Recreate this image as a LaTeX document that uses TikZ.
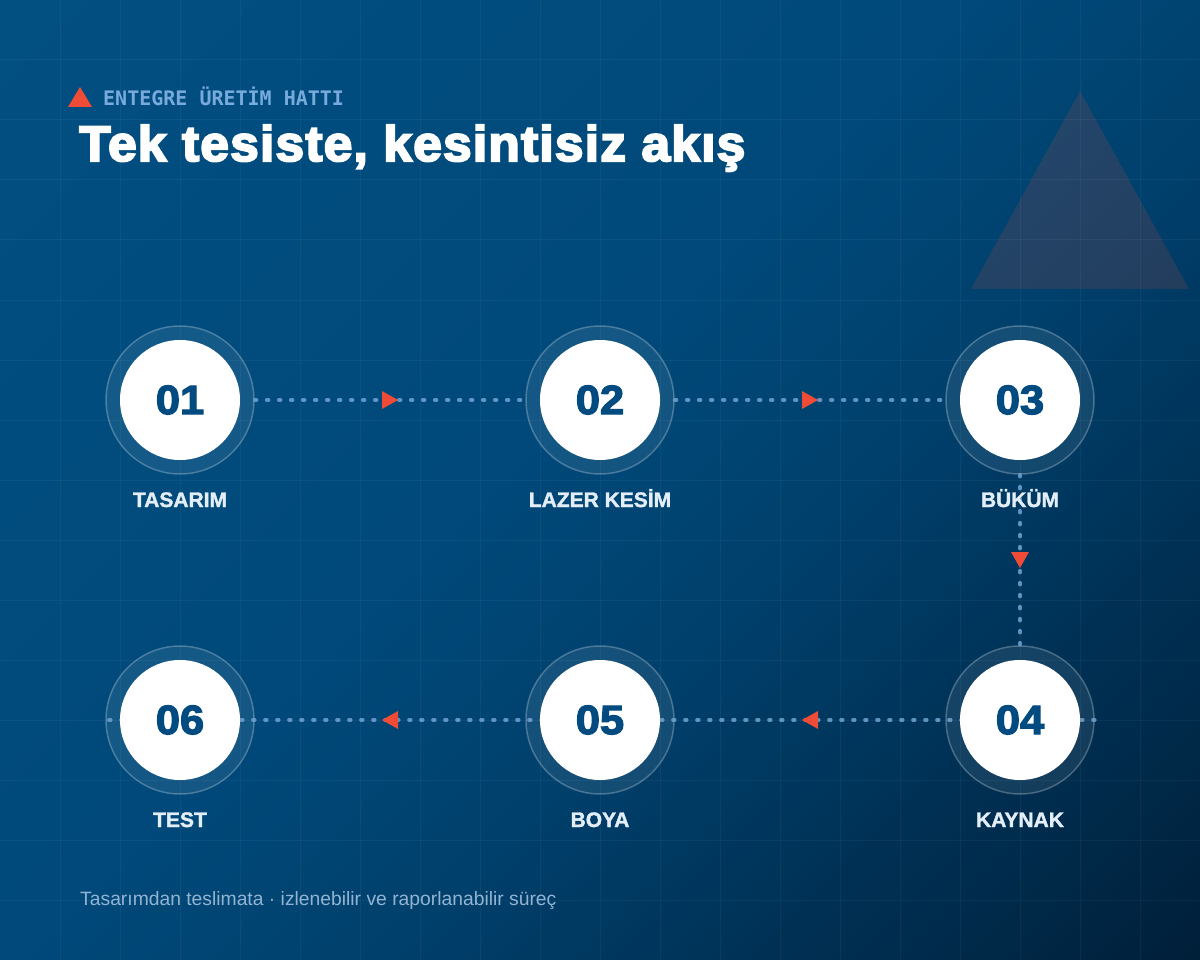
\documentclass[tikz,border=0pt]{standalone}
\usepackage{fontspec}
\setmainfont{Liberation Sans}
\newfontfamily\titlefont[FakeBold=4,FakeStretch=1.03,LetterSpace=2.4]{Liberation Sans Bold}
\newfontfamily\subfont{DejaVu Sans Mono Bold}
\newfontfamily\boldsans[FakeBold=1.5]{Liberation Sans Bold}
\newfontfamily\numfont[FakeBold=3,FakeStretch=1.06]{Liberation Sans Bold}
\usetikzlibrary{calc}
\definecolor{bgA}{RGB}{2,79,130}
\definecolor{bgB}{RGB}{0,73,122}
\definecolor{bgC}{RGB}{0,64,108}
\definecolor{bgD}{RGB}{0,53,91}
\definecolor{bgE}{RGB}{0,42,74}
\definecolor{bgF}{RGB}{0,31,57}
\definecolor{arrowred}{RGB}{240,75,54}
\definecolor{numblue}{RGB}{1,75,128}
\definecolor{lblcol}{RGB}{228,238,248}
\definecolor{subcol}{RGB}{120,170,220}
\definecolor{footcol}{RGB}{147,179,211}
\definecolor{flowcol}{RGB}{111,163,211}
\newcommand\bgstrips[4]{%
  \foreach \i in {#1,...,#2}{%
    \pgfmathtruncatemacro\mixp{100*(\i-#1+0.5)/(#2-#1+1)}%
    \pgfmathsetmacro\sa{\i*21.6}%
    \pgfmathsetmacro\sb{\sa+23}%
    \fill[#4!\mixp!#3] (\sa,0) -- (\sb,0) -- ({\sb-960},960) -- ({\sa-960},960) -- cycle;
  }}
\begin{document}
\begin{tikzpicture}[x=1pt,y=-1pt,
  gridline/.style={draw=white, draw opacity=0.045, line width=1pt},
  ring/.style={circle, minimum size=148pt, inner sep=0pt, fill=white, fill opacity=0.08, draw=white, draw opacity=0.25, line width=1.5pt},
  disc/.style={circle, minimum size=120pt, inner sep=0pt, fill=white, text=numblue, font=\numfont\fontsize{41}{48}\selectfont},
  lbl/.style={anchor=base, inner sep=0pt, text=lblcol, font=\boldsans\fontsize{21}{24}\selectfont},
  flow/.style={draw=flowcol, draw opacity=0.85, line width=3.6pt, line cap=round, dash pattern=on 1.8pt off 10.2pt},
  flowtip/.style={fill=arrowred}
]
\useasboundingbox (0,0) rectangle (1200,960);
% background
\begin{scope}
\clip (0,0) rectangle (1200,960);
\bgstrips{0}{44}{bgA}{bgB}
\bgstrips{45}{61}{bgB}{bgC}
\bgstrips{62}{74}{bgC}{bgD}
\bgstrips{75}{87}{bgD}{bgE}
\bgstrips{88}{99}{bgE}{bgF}
% decorative triangle
\fill[arrowred, fill opacity=0.15] (1080,91) -- (1189,289) -- (971,289) -- cycle;
% grid
\foreach \gx in {60,120,...,1140} \draw[gridline] (\gx,0) -- (\gx,960);
\foreach \gy in {60,120,...,900} \draw[gridline] (0,\gy) -- (1200,\gy);
\end{scope}
% header
\fill[arrowred] (68,107) -- (92,107) -- (80,87) -- cycle;
\node[anchor=base west, inner sep=0pt, text=subcol, font=\subfont\fontsize{20}{24}\selectfont] (sub) at (103,106) {ENTEGRE ÜRETİM HATTI};
\node[anchor=base west, inner sep=0pt, text=white, font=\titlefont\fontsize{50}{60}\selectfont] (title) at (79,161) {Tek tesiste, kesintisiz akış};
% rings
\node[ring] (r1) at (180,400) {};
\node[ring] (r2) at (600,400) {};
\node[ring] (r3) at (1020,400) {};
\node[ring] (r4) at (1020,720) {};
\node[ring] (r5) at (600,720) {};
\node[ring] (r6) at (180,720) {};
% connectors
\draw[flow] (r1.east) -- (r2.west);
\draw[flow] (r2.east) -- (r3.west);
\draw[flow] (r3.south) -- (r4.north);
\draw[flow] (r4.east) -- (r6.west);
% number discs
\node[disc] (n1) at (r1) {01};
\node[disc] (n2) at (r2) {02};
\node[disc] (n3) at (r3) {03};
\node[disc] (n4) at (r4) {04};
\node[disc] (n5) at (r5) {05};
\node[disc] (n6) at (r6) {06};
% arrowheads
\coordinate (a12) at ($(r1.east)!0.5!(r2.west)$);
\coordinate (a23) at ($(r2.east)!0.5!(r3.west)$);
\coordinate (a34) at ($(r3.south)!0.5!(r4.north)$);
\coordinate (a45) at ($(r4.west)!0.5!(r5.east)$);
\coordinate (a56) at ($(r5.west)!0.5!(r6.east)$);
\fill[flowtip] (a12) +(8,0) -- +(-8,-9) -- +(-8,9) -- cycle;
\fill[flowtip] (a23) +(8,0) -- +(-8,-9) -- +(-8,9) -- cycle;
\fill[flowtip] (a34) +(0,8) -- +(-9,-8) -- +(9,-8) -- cycle;
\fill[flowtip] (a45) +(-8,0) -- +(8,-9) -- +(8,9) -- cycle;
\fill[flowtip] (a56) +(-8,0) -- +(8,-9) -- +(8,9) -- cycle;
% labels
\node[lbl] (l1) at (180,507) {TASARIM};
\node[lbl] (l2) at (600,507) {LAZER KESİM};
\node[lbl] (l3) at (1020,507) {BÜKÜM};
\node[lbl] (l4) at (1020,827) {KAYNAK};
\node[lbl] (l5) at (600,827) {BOYA};
\node[lbl] (l6) at (180,827) {TEST};
% footer
\node[anchor=base west, inner sep=0pt, text=footcol, font=\fontsize{19.3}{23}\selectfont] (foot) at (80,905) {Tasarımdan teslimata · izlenebilir ve raporlanabilir süreç};
\end{tikzpicture}
\end{document}
